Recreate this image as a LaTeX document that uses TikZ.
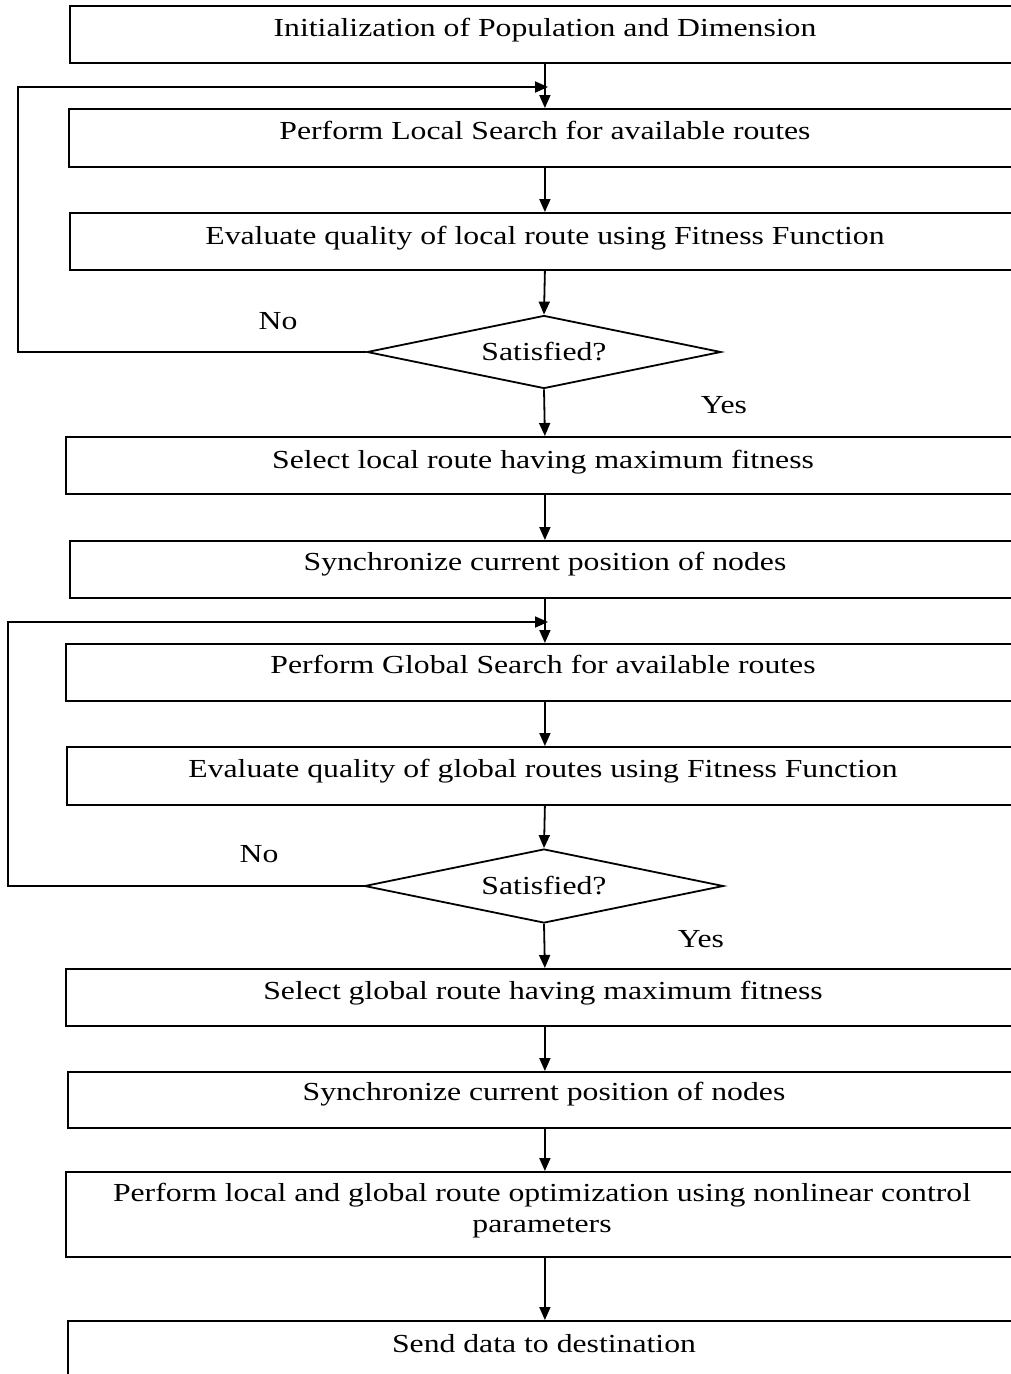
\documentclass[tikz,border=0pt]{standalone}
\usepackage{fontspec}
\setmainfont{Liberation Serif}[FakeStretch=1.22]
\usetikzlibrary{arrows.meta,shapes.geometric}
\tikzset{
  box/.style={draw, rectangle, line width=1.8pt, inner sep=0pt, anchor=north west},
  lbl/.style={anchor=base, inner sep=0pt, font=\fontsize{26}{31}\selectfont},
  dec/.style={draw, diamond, line width=1.8pt, inner sep=0pt, aspect=4.85, font=\fontsize{26}{31}\selectfont},
  arr/.style={line width=1.8pt, -{Triangle[length=13pt,width=11pt]}},
  ln/.style={line width=1.8pt}
}
\begin{document}
\begin{tikzpicture}[x=1pt,y=-1pt]
\useasboundingbox (0,0) rectangle (1011,1374);
\clip (0,0) rectangle (1011,1374);
\fill[white] (0,0) rectangle (1011,1374);
% boxes
\node[box, minimum width=950, minimum height=57] (b1) at (69,5) {};
\node[box, minimum width=952, minimum height=58] (b2) at (68,108) {};
\node[box, minimum width=950, minimum height=57] (b3) at (69,212) {};
\node[dec, minimum width=354, minimum height=73] (d1) at (544,352) {\raisebox{-2pt}{Satisfied?}};
\node[box, minimum width=958, minimum height=57] (b4) at (65,436) {};
\node[box, minimum width=950, minimum height=57] (b5) at (69,540) {};
\node[box, minimum width=958, minimum height=57] (b6) at (65,643) {};
\node[box, minimum width=956, minimum height=58] (b7) at (66,746) {};
\node[dec, minimum width=359, minimum height=74] (d2) at (544,886) {\raisebox{-2pt}{Satisfied?}};
\node[box, minimum width=958, minimum height=57] (b8) at (65,968) {};
\node[box, minimum width=954, minimum height=56] (b9) at (67,1071) {};
\node[box, minimum width=958, minimum height=85] (b10) at (65,1171) {};
\node[box, minimum width=954, minimum height=90] (b11) at (67,1320) {};
% texts
\node[lbl] (t1) at (545,36.5) {Initialization of Population and Dimension};
\node[lbl] (t2) at (545,139.5) {Perform Local Search for available routes};
\node[lbl] (t3) at (545,244.5) {Evaluate quality of local route using Fitness Function};
\node[lbl] (t4) at (543,468.5) {Select local route having maximum fitness};
\node[lbl] (t5) at (545,570.5) {Synchronize current position of nodes};
\node[lbl] (t6) at (543,673.5) {Perform Global Search for available routes};
\node[lbl] (t7) at (543,777.5) {Evaluate quality of global routes using Fitness Function};
\node[lbl] (t8) at (543,999.5) {Select global route having maximum fitness};
\node[lbl] (t9) at (544,1100.5) {Synchronize current position of nodes};
\node[lbl] (t10a) at (542,1201.5) {Perform local and global route optimization using nonlinear control};
\node[lbl] (t10b) at (542,1232.5) {parameters};
\node[lbl] (t11) at (544,1352.5) {Send data to destination};
\node[lbl] (no1) at (278,329.5) {No};
\node[lbl] (yes1) at (724,413.5) {Yes};
\node[lbl] (no2) at (259,862.5) {No};
\node[lbl] (yes2) at (701,947.5) {Yes};
% main arrows
\draw[arr] (b1.south) -- (b2.north);
\draw[arr] (b2.south) -- (b3.north);
\draw[arr] (b3.south) -- (d1.north);
\draw[arr] (d1.south) -- (b4.north);
\draw[arr] (b4.south) -- (b5.north);
\draw[arr] (b5.south) -- (b6.north);
\draw[arr] (b6.south) -- (b7.north);
\draw[arr] (b7.south) -- (d2.north);
\draw[arr] (d2.south) -- (b8.north);
\draw[arr] (b8.south) -- (b9.north);
\draw[arr] (b9.south) -- (b10.north);
\draw[arr] (b10.south) -- (b11.north);
% feedback loops
\coordinate (c1) at (18,87);
\coordinate (j1) at (548,87);
\draw[arr] (d1.west) -- (d1.west -| c1) -- (c1) -- (j1);
\coordinate (c2) at (8,622);
\coordinate (j2) at (548,622);
\draw[arr] (d2.west) -- (d2.west -| c2) -- (c2) -- (j2);
\end{tikzpicture}
\end{document}
